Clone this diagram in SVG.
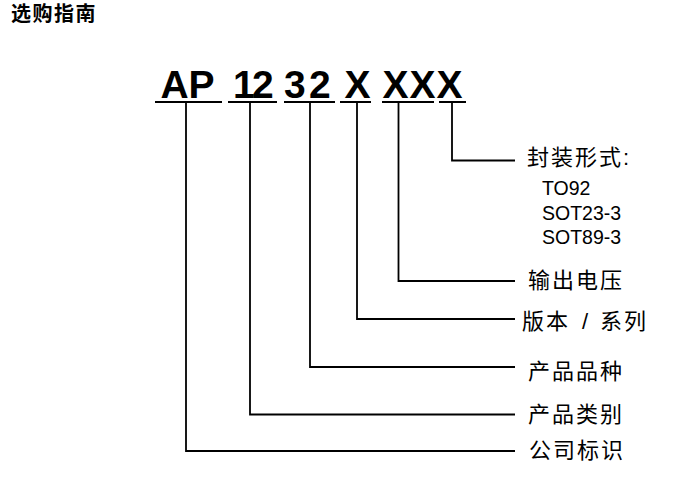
<svg xmlns="http://www.w3.org/2000/svg" width="684" height="477" viewBox="0 0 684 477">
<style>
.big{font-family:"Liberation Sans",Arial,sans-serif;font-weight:bold;font-size:39px;fill:#000}
.lbl{font-family:"Liberation Sans","Noto Sans CJK SC",sans-serif;font-size:22px;fill:#000;letter-spacing:2px}
.pkg{font-family:"Liberation Sans",Arial,sans-serif;font-size:19.5px;fill:#000}
.ttl{font-family:"Liberation Sans","Noto Sans CJK SC",sans-serif;font-size:20px;font-weight:bold;fill:#000;letter-spacing:1.5px}
.ul{fill:#000}
.con{fill:none;stroke:#000;stroke-width:1.8}
</style>
<rect width="684" height="477" fill="#fff"/>
<text class="ttl" x="11" y="21">选购指南</text>
<g id="code">
<text class="big" x="160.5 188.5" y="98">AP</text>
<text class="big" x="233 252" y="98">12</text>
<text class="big" x="284 309" y="98">32</text>
<text class="big" x="344.5" y="98">X</text>
<text class="big" x="382.5 409.5 436.5" y="98">XXX</text>
<rect class="ul" x="155" y="101" width="67" height="2"/>
<rect class="ul" x="228" y="101" width="49" height="2"/>
<rect class="ul" x="284" y="101" width="51" height="2"/>
<rect class="ul" x="340" y="101" width="31" height="2"/>
<rect class="ul" x="382" y="101" width="52" height="2"/>
<rect class="ul" x="439" y="101" width="27" height="2"/>
</g>
<g id="connectors">
<polyline class="con" points="452,103 452,160.5 515,160.5"/>
<polyline class="con" points="398.5,103 398.5,281 515,281"/>
<polyline class="con" points="357,103 357,319 515,319"/>
<polyline class="con" points="310,103 310,367 515,367"/>
<polyline class="con" points="250,103 250,414.5 515,414.5"/>
<polyline class="con" points="186,103 186,451 515,451"/>
</g>
<g id="n-package">
<text class="lbl" x="527" y="164.5">封装形式:</text>
<text class="pkg" x="542" y="195">TO92</text>
<text class="pkg" x="542" y="220">SOT23-3</text>
<text class="pkg" x="542" y="244">SOT89-3</text>
</g>
<g id="n-voltage"><text class="lbl" x="528" y="287.5">输出电压</text></g>
<g id="n-version"><text class="lbl" y="329"><tspan x="522">版本</tspan><tspan x="582">/</tspan><tspan x="600">系列</tspan></text></g>
<g id="n-variety"><text class="lbl" x="528" y="379">产品品种</text></g>
<g id="n-category"><text class="lbl" x="528" y="422">产品类别</text></g>
<g id="n-company"><text class="lbl" x="529" y="458">公司标识</text></g>
</svg>
